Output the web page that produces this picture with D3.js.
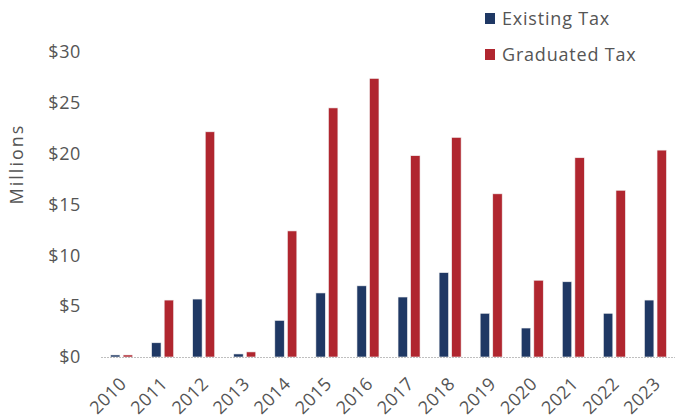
<!DOCTYPE html>
<html>
<head>
<meta charset="utf-8">
<script src="https://cdn.jsdelivr.net/npm/d3@7"></script>
<style>
  body { margin: 0; background: #fff; }
  text { font-family: "Open Sans", sans-serif; fill: #555; }
</style>
</head>
<body>
<div id="chart"></div>
<script>
// chart data
var years = ["2010", "2011", "2012", "2013", "2014", "2015", "2016", "2017", "2018", "2019", "2020", "2021", "2022", "2023"];
var seriesNames = ["Existing Tax", "Graduated Tax"];
var existingTax = [0.2, 1.4, 5.7, 0.3, 3.6, 6.3, 7.0, 5.9, 8.3, 4.3, 2.85, 7.4, 4.3, 5.6];
var graduatedTax = [0.2, 5.6, 22.15, 0.5, 12.4, 24.5, 27.4, 19.8, 21.6, 16.05, 7.55, 19.6, 16.4, 20.35];
var yTicks = [0, 5, 10, 15, 20, 25, 30];

var colors = ["#1f3864", "#b0262f"];
var width = 675, height = 418;

var svg = d3.select("#chart")
    .append("svg")
    .attr("width", width)
    .attr("height", height);

// scales
var x = d3.scaleBand()
    .domain(years)
    .range([101, 676])
    .paddingInner(0.464)
    .paddingOuter(0.232);

var xInner = d3.scaleBand()
    .domain(seriesNames)
    .range([0, x.bandwidth()])
    .paddingInner(0.25);

var y = d3.scaleLinear()
    .domain([0, 30])
    .range([357, 52]);

var rows = years.map(function (yr, i) {
    return { year: yr, values: [existingTax[i], graduatedTax[i]] };
});

// y axis labels (no line, no ticks)
var yAxis = svg.append("g")
    .attr("transform", "translate(81,0)")
    .call(d3.axisLeft(y).tickValues(yTicks).tickSize(0).tickPadding(0)
        .tickFormat(function (d) { return "$" + d; }));
yAxis.select(".domain").remove();
yAxis.selectAll(".tick text")
    .attr("font-size", 18)
    .attr("letter-spacing", 0.6)
    .attr("font-family", "Open Sans, sans-serif")
    .attr("fill", "#555");

// axis title
svg.append("text")
    .attr("transform", "translate(23," + 164 + ") rotate(-90)")
    .attr("text-anchor", "middle")
    .attr("font-size", 18)
    .attr("letter-spacing", 2)
    .text("Millions");

// bars
var groups = svg.append("g")
    .selectAll("g")
    .data(rows)
    .join("g")
    .attr("transform", function (d) { return "translate(" + x(d.year) + ",0)"; });

groups.selectAll("rect")
    .data(function (d) { return d.values.map(function (v, j) { return { key: seriesNames[j], value: v, i: j }; }); })
    .join("rect")
    .attr("x", function (d) { return xInner(d.key); })
    .attr("width", xInner.bandwidth())
    .attr("y", function (d) { return y(d.value); })
    .attr("height", function (d) { return y(0) - y(d.value); })
    .attr("fill", function (d) { return colors[d.i]; })
    .attr("stroke", "#f2f2f2")
    .attr("stroke-width", 0.6);

// x axis
var xAxis = svg.append("g")
    .attr("transform", "translate(0," + y(0) + ")")
    .call(d3.axisBottom(x).tickSize(0).tickPadding(0));
xAxis.select(".domain")
    .attr("stroke", "#bfbfbf")
    .attr("stroke-dasharray", "2,1")
    .attr("d", "M" + x.range()[0] + ",0.5H" + x.range()[1]);
xAxis.selectAll(".tick text")
    .attr("font-size", 18)
    .attr("letter-spacing", 0.4)
    .attr("font-family", "Open Sans, sans-serif")
    .attr("fill", "#555")
    .attr("text-anchor", "end")
    .attr("dy", 0)
    .attr("transform", "translate(6,28) rotate(-45)");

// legend
var legend = svg.append("g")
    .selectAll("g")
    .data(seriesNames)
    .join("g")
    .attr("transform", function (d, i) { return "translate(485," + (13 + i * 36) + ")"; });

legend.append("rect")
    .attr("width", 10)
    .attr("height", 11)
    .attr("fill", function (d, i) { return colors[i]; });

legend.append("text")
    .attr("x", 17)
    .attr("y", 12)
    .attr("font-size", 18)
    .attr("letter-spacing", 0.8)
    .text(function (d) { return d; });
</script>
</body>
</html>
